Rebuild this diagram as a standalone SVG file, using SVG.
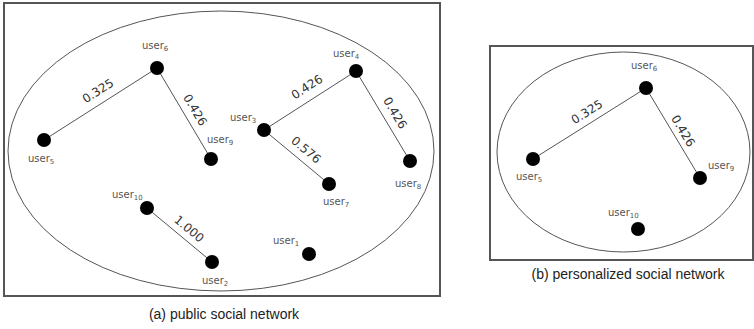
<svg xmlns="http://www.w3.org/2000/svg" width="754" height="329" viewBox="0 0 754 329">
<style>
.frame{fill:none;stroke:#555;stroke-width:2}
.oval{fill:none;stroke:#555;stroke-width:1}
.edge{stroke:#555;stroke-width:1;fill:none}
.node{fill:#000}
.lbl{font-family:"DejaVu Sans",Verdana,sans-serif;font-size:10px;fill:#555}
.sub{font-size:7px}
.w{font-family:"DejaVu Sans",Verdana,sans-serif;font-size:12px;fill:#333;text-anchor:middle}
.cap{font-family:"Liberation Sans",Arial,sans-serif;font-size:14px;fill:#222;text-anchor:middle}
</style>
<rect width="754" height="329" fill="#fff"/>
<g id="panel-a">
<rect class="frame" x="4" y="3" width="436" height="293"/>
<ellipse class="oval" cx="221" cy="151" rx="213" ry="140"/>
</g>
<g id="panel-b">
<rect class="frame" x="490" y="46" width="263" height="214"/>
<ellipse class="oval" cx="623.5" cy="152" rx="126.5" ry="100"/>
</g>
<g id="connectors">
<line class="edge" x1="44" y1="140" x2="157" y2="68"/>
<line class="edge" x1="157" y1="68" x2="211" y2="159"/>
<line class="edge" x1="264" y1="130" x2="356" y2="71"/>
<line class="edge" x1="356" y1="71" x2="410" y2="161"/>
<line class="edge" x1="264" y1="130" x2="329" y2="184"/>
<line class="edge" x1="147" y1="208" x2="212" y2="262"/>
<line class="edge" x1="533" y1="159" x2="646" y2="88"/>
<line class="edge" x1="646" y1="88" x2="700" y2="178"/>
<text class="w" transform="translate(98,91) rotate(-32.5)" y="4">0.325</text>
<text class="w" transform="translate(195,110) rotate(59.3)" y="4">0.426</text>
<text class="w" transform="translate(307,87) rotate(-32.7)" y="4">0.426</text>
<text class="w" transform="translate(395,113) rotate(59)" y="4">0.426</text>
<text class="w" transform="translate(306,150) rotate(39.7)" y="4">0.576</text>
<text class="w" transform="translate(189,229) rotate(39.7)" y="4">1.000</text>
<text class="w" transform="translate(587,112) rotate(-32.1)" y="4">0.325</text>
<text class="w" transform="translate(683,131) rotate(59)" y="4">0.426</text>
</g>
<g id="a-user6"><circle class="node" cx="157" cy="68" r="7"/><text class="lbl" x="142" y="49">user<tspan class="sub" dy="2">6</tspan></text></g>
<g id="a-user5"><circle class="node" cx="44" cy="140" r="7"/><text class="lbl" x="28" y="162">user<tspan class="sub" dy="2">5</tspan></text></g>
<g id="a-user9"><circle class="node" cx="211" cy="159" r="7"/><text class="lbl" x="207" y="143">user<tspan class="sub" dy="2">9</tspan></text></g>
<g id="a-user4"><circle class="node" cx="356" cy="71" r="7"/><text class="lbl" x="333" y="57">user<tspan class="sub" dy="2">4</tspan></text></g>
<g id="a-user3"><circle class="node" cx="264" cy="130" r="7"/><text class="lbl" x="230" y="121">user<tspan class="sub" dy="2">3</tspan></text></g>
<g id="a-user7"><circle class="node" cx="329" cy="184" r="7"/><text class="lbl" x="323" y="205">user<tspan class="sub" dy="2">7</tspan></text></g>
<g id="a-user8"><circle class="node" cx="410" cy="161" r="7"/><text class="lbl" x="395" y="187">user<tspan class="sub" dy="2">8</tspan></text></g>
<g id="a-user10"><circle class="node" cx="147" cy="208" r="7"/><text class="lbl" x="112" y="198">user<tspan class="sub" dy="2">10</tspan></text></g>
<g id="a-user2"><circle class="node" cx="212" cy="262" r="7"/><text class="lbl" x="202" y="284">user<tspan class="sub" dy="2">2</tspan></text></g>
<g id="a-user1"><circle class="node" cx="309" cy="254" r="7"/><text class="lbl" x="273" y="244">user<tspan class="sub" dy="2">1</tspan></text></g>
<g id="b-user6"><circle class="node" cx="646" cy="88" r="7"/><text class="lbl" x="631" y="69">user<tspan class="sub" dy="2">6</tspan></text></g>
<g id="b-user5"><circle class="node" cx="533" cy="159" r="7"/><text class="lbl" x="516" y="180">user<tspan class="sub" dy="2">5</tspan></text></g>
<g id="b-user9"><circle class="node" cx="700" cy="178" r="7"/><text class="lbl" x="708" y="169">user<tspan class="sub" dy="2">9</tspan></text></g>
<g id="b-user10"><circle class="node" cx="638" cy="229" r="7"/><text class="lbl" x="608" y="216">user<tspan class="sub" dy="2">10</tspan></text></g>
<text class="cap" x="224" y="319">(a) public social network</text>
<text class="cap" x="628" y="279">(b) personalized social network</text>
</svg>
